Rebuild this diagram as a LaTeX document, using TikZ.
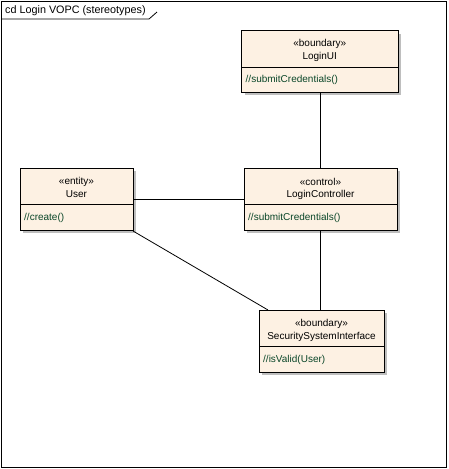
\documentclass[tikz,border=0pt]{standalone}
\usepackage{fontspec}
\setmainfont{Liberation Sans}
\definecolor{boxfill}{RGB}{253,241,227}
\definecolor{shadowgray}{RGB}{190,190,190}
\definecolor{optext}{RGB}{10,70,40}
\begin{document}
\begin{tikzpicture}[x=1pt,y=-1pt,
  txt/.style={inner sep=0pt,font=\fontsize{10}{12}\selectfont},
  optxt/.style={txt,anchor=west,text=optext},
  line/.style={draw=black,line width=0.8pt}]
\useasboundingbox (0,0) rectangle (448,469);
\fill[white] (0,0) rectangle (448,469);
% frame
\draw[line width=0.9pt] (1.5,1.5) rectangle (446.5,467.5);
\draw[line width=0.8pt] (1.5,19) -- (149,19) -- (157,12);
\node[inner sep=0pt,anchor=west,font=\fontsize{10.8}{12}\selectfont] (title) at (5,10.5) {cd Login VOPC (stereotypes)};
% classes: name, left, top, right, bottom, separator
\newcommand{\umlclass}[9]{%
  \fill[shadowgray] (#2+3,#3+3) rectangle (#4+3,#5+3);
  \filldraw[fill=boxfill,draw=black,line width=0.8pt] (#2,#3) rectangle (#4,#5);
  \draw[line width=0.8pt] (#2,#6) -- (#4,#6);
  \node (#1) at ({(#2+#4)/2},{(#3+#5)/2}) [minimum width=#4-#2,minimum height=#5-#3,inner sep=0pt] {};
  \node[txt] (#1st) at ({(#2+#4)/2},#3+13.5) {#7};
  \node[txt] (#1nm) at ({(#2+#4)/2},#3+26.5) {#8};
  \node[optxt] (#1op) at (#2+4,#6+13) {#9};
}
\umlclass{ui}{241.5}{30.5}{398}{92}{67}{«boundary»}{LoginUI}{//submitCredentials()}
\umlclass{user}{20}{168}{133}{230}{204.5}{«entity»}{User}{//create()}
\umlclass{lc}{244}{168}{397}{230}{204.5}{«control»}{LoginController}{//submitCredentials()}
\umlclass{ssi}{259}{310}{384}{372}{346.5}{«boundary»}{SecuritySystemInterface}{//isValid(User)}
% connectors
\coordinate (uiB) at (320,92);
\coordinate (lcT) at (320,168);
\coordinate (lcB) at (320,230);
\coordinate (ssiT) at (320,310);
\coordinate (userR) at (133,199);
\coordinate (lcL) at (244,199);
\coordinate (userC) at (133,231);
\coordinate (ssiC) at (268,310);
\draw[line] (uiB) -- (lcT);
\draw[line] (lcB) -- (ssiT);
\draw[line] (userR) -- (lcL);
\draw[line] (userC) -- (ssiC);
\end{tikzpicture}
\end{document}
